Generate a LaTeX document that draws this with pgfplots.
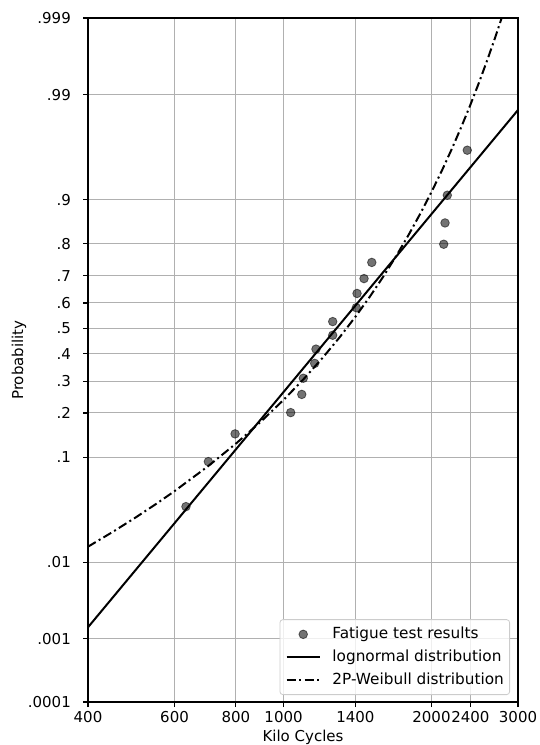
\documentclass[border=0pt]{standalone}
\usepackage{pgfplots}
\pgfplotsset{compat=1.18}
\usepackage{fontspec}
\setmainfont{DejaVu Sans}
\definecolor{gridgray}{RGB}{176,176,176}
\definecolor{legedge}{RGB}{204,204,204}
\newcommand{\fs}{\fontsize{15}{18}\selectfont}
\newcommand{\fl}{\fontsize{15.3}{18}\selectfont}
\begin{document}
\begin{tikzpicture}
\begin{axis}[
  at={(0pt,0pt)}, anchor=south west,
  scale only axis, width=430pt, height=684pt,
  xmode=log, xmin=400, xmax=3000,
  ymin=-3.7190, ymax=3.0902,
  xtick={400,600,800,1000,1400,2000,2400,3000},
  xticklabels={400,600,800,1000,1400,2000,2400,3000},
  ytick={-3.7190,-3.0902,-2.3263,-1.2816,-0.8416,-0.5244,-0.2533,0,0.2533,0.5244,0.8416,1.2816,2.3263,3.0902},
  yticklabels={.0001,.001,.01,.1,.2,.3,.4,.5,.6,.7,.8,.9,.99,.999},
  grid=major,
  major grid style={gridgray, line width=1pt},
  axis line style={black, line width=1.1pt},
  tick align=outside, xtick pos=bottom, ytick pos=left,
  major tick length=5pt,
  tick style={black, line width=1.1pt},
  /pgf/number format/assume math mode=true,
  ticklabel style={font=\fs, inner sep=0pt},
  xticklabel style={anchor=north, yshift=-4pt},
  yticklabel style={anchor=east, xshift=-12pt},
  xlabel={Kilo Cycles},
  ylabel={Probability},
  xlabel style={at={(axis description cs:0.5,-0.0409)}, anchor=north, inner sep=0pt, font=\fs},
  ylabel style={at={(axis description cs:-0.143,0.5)}, anchor=south, inner sep=0pt, font=\fs},
  legend style={at={(0.9814,0.0102)}, anchor=south east, draw=legedge, line width=0.8pt,
    rounded corners=3pt, fill=white, fill opacity=0.8, text opacity=1, draw opacity=1,
    font=\fl, inner xsep=5.8pt, inner ysep=3.3pt,
    nodes={inner xsep=0pt, inner ysep=3.65pt, text height=12pt, text depth=3.5pt},
    /tikz/every odd column/.append style={column sep=11.7pt}},
  legend cell align=left,
  legend image code/.code={\draw[mark repeat=2, mark phase=2, #1] plot coordinates {(0pt,0pt) (16.5pt,0pt) (33pt,0pt)};},
]
\addlegendimage{only marks, mark=*, mark size=4.3pt, mark options={fill=black, draw=black, fill opacity=0.55, draw opacity=0.55, line width=0.8pt}}
\addlegendentry{Fatigue test results}
\addplot[black, line width=2pt] coordinates {(400,-2.975) (3000,2.1745)};
\addlegendentry{lognormal distribution}
\addplot[black, line width=2pt, dash pattern=on 9pt off 3.5pt on 2pt off 3.5pt] coordinates {
(400,-2.173) (450,-2.023) (500,-1.882) (550,-1.748) (600,-1.620) (700,-1.3765)
(800,-1.1468) (900,-0.926) (1000,-0.7115) (1100,-0.5015) (1200,-0.2945) (1300,-0.0894)
(1400,0.1152) (1500,0.3197) (1600,0.5248) (1700,0.7307) (1800,0.9379) (1900,1.1471)
(2000,1.358) (2100,1.5712) (2200,1.787) (2300,2.0057) (2400,2.2262) (2500,2.450)
(2600,2.677) (2700,2.9066) (2779,3.090)};
\addlegendentry{2P-Weibull distribution}
\addplot[forget plot, only marks, mark=*, mark size=4.3pt, mark options={fill=black, draw=black, fill opacity=0.55, draw opacity=0.55, line width=0.8pt}] coordinates {
(633,-1.774) (703,-1.326) (797,-1.050) (1034,-0.838) (1089,-0.657) (1097,-0.496)
(1157,-0.348) (1164,-0.206) (1259,-0.068) (1259,0.068) (1406,0.206) (1411,0.348)
(1458,0.496) (1512,0.657) (2118,0.838) (2131,1.050) (2154,1.326) (2365,1.774)};
\end{axis}
\pgfresetboundingbox
\path[use as bounding box] (-88pt,-43pt) rectangle (451pt,702pt);
\end{tikzpicture}
\end{document}
